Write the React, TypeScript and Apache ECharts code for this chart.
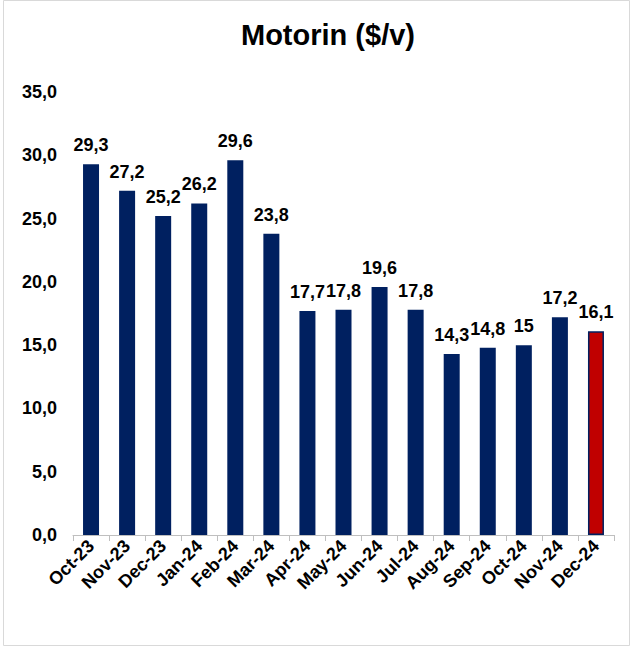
import React, { useEffect, useRef } from "react";
import * as echarts from "echarts";

const categories = [
  "Oct-23", "Nov-23", "Dec-23", "Jan-24", "Feb-24", "Mar-24", "Apr-24", "May-24",
  "Jun-24", "Jul-24", "Aug-24", "Sep-24", "Oct-24", "Nov-24", "Dec-24",
];
const values = [29.3, 27.2, 25.2, 26.2, 29.6, 23.8, 17.7, 17.8, 19.6, 17.8, 14.3, 14.8, 15, 17.2, 16.1];
const highlightIndex = 14;
const title = "Motorin ($/v)";

const FONT = "Liberation Sans, Arial, sans-serif";
const NAVY = "#002060";
const RED = "#C00000";

export default function App() {
  const ref = useRef<HTMLDivElement>(null);
  useEffect(() => {
    document.body.style.margin = "0";
    if (!ref.current) return;
    const chart = echarts.init(ref.current, undefined, { renderer: "svg" });
    chart.setOption({
      animation: false,
      backgroundColor: "#ffffff",
      title: {
        text: title,
        left: 236,
        top: 15,
        textStyle: { fontFamily: FONT, fontSize: 29, fontWeight: "bold", color: "#000" },
      },
      graphic: [
        {
          type: "rect",
          shape: { x: 3.5, y: 0.5, width: 626, height: 645 },
          style: { fill: "none", stroke: "#d9d9d9", lineWidth: 1 },
          silent: true,
        },
      ],
      grid: { left: 73, right: 17, top: 92, bottom: 113, containLabel: false },
      xAxis: {
        type: "category",
        data: categories,
        axisLine: { lineStyle: { color: "#bfbfbf", width: 1 } },
        axisTick: { show: true, length: 6, lineStyle: { color: "#bfbfbf" } },
        axisLabel: {
          rotate: 45,
          interval: 0,
          margin: 8,
          fontFamily: FONT,
          fontSize: 18,
          fontWeight: "bold",
          color: "#000",
        },
      },
      yAxis: {
        type: "value",
        min: 0,
        max: 35,
        interval: 5,
        splitLine: { show: false },
        axisLine: { show: false },
        axisTick: { show: false },
        axisLabel: {
          margin: 16,
          fontFamily: FONT,
          fontSize: 18,
          fontWeight: "bold",
          color: "#000",
          formatter: (v: number) => v.toFixed(1).replace(".", ","),
        },
      },
      series: [
        {
          type: "bar",
          barWidth: 16,
          data: values.map((v, i) => ({
            value: v,
            itemStyle:
              i === highlightIndex
                ? { color: RED, borderColor: NAVY, borderWidth: 1.5 }
                : { color: NAVY },
          })),
          label: {
            show: true,
            position: "top",
            distance: 10,
            fontFamily: FONT,
            fontSize: 18,
            fontWeight: "bold",
            color: "#000",
            formatter: (p: any) => String(p.value).replace(".", ","),
          },
        },
      ],
    });
    return () => chart.dispose();
  }, []);
  return <div ref={ref} style={{ width: 631, height: 648 }} />;
}
